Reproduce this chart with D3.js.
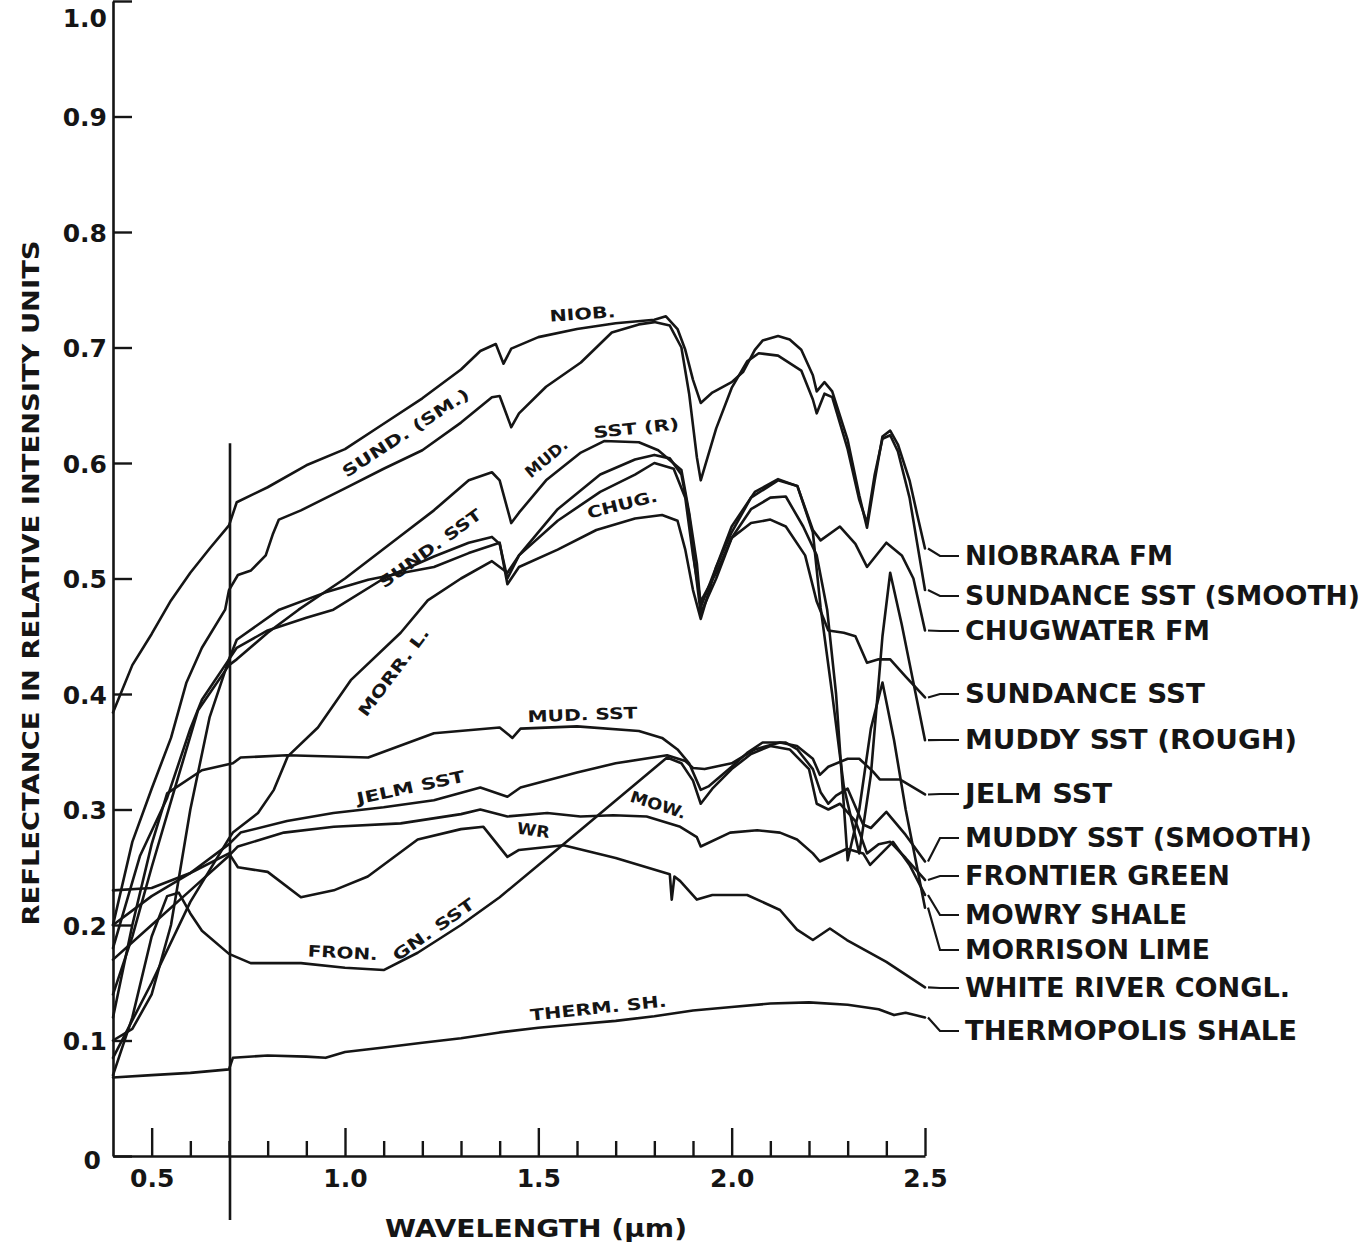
<!DOCTYPE html>
<html><head><meta charset="utf-8">
<script src="https://cdn.jsdelivr.net/npm/d3@7"></script>
<style>html,body{margin:0;padding:0;background:#fff;} svg{display:block}</style>
</head><body>
<svg id="chart" width="1368" height="1253"></svg>
<script>
// ---------- DATA (wavelength µm, reflectance) ----------
const niobrara = [[0.40,0.384],[0.45,0.425],[0.50,0.452],[0.55,0.481],[0.60,0.505],[0.65,0.526],[0.70,0.546],[0.72,0.566],[0.80,0.579],[0.90,0.598],[1.00,0.612],[1.10,0.634],[1.20,0.656],[1.30,0.681],[1.35,0.697],[1.39,0.703],[1.41,0.686],[1.43,0.699],[1.50,0.709],[1.60,0.716],[1.70,0.721],[1.80,0.724],[1.83,0.727],[1.86,0.716],[1.88,0.698],[1.90,0.672],[1.92,0.652],[1.95,0.661],[2.00,0.670],[2.03,0.679],[2.06,0.698],[2.08,0.706],[2.12,0.710],[2.15,0.707],[2.18,0.698],[2.21,0.676],[2.22,0.662],[2.24,0.670],[2.26,0.662],[2.30,0.620],[2.33,0.572],[2.35,0.544],[2.37,0.585],[2.39,0.623],[2.41,0.628],[2.43,0.616],[2.46,0.585],[2.48,0.555],[2.50,0.526]];
const sundanceSmooth = [[0.40,0.200],[0.45,0.272],[0.50,0.318],[0.55,0.362],[0.59,0.410],[0.63,0.440],[0.69,0.473],[0.70,0.490],[0.723,0.503],[0.757,0.507],[0.795,0.520],[0.813,0.538],[0.829,0.551],[0.886,0.559],[1.00,0.578],[1.10,0.595],[1.20,0.611],[1.30,0.635],[1.38,0.657],[1.40,0.658],[1.43,0.631],[1.45,0.643],[1.52,0.666],[1.61,0.687],[1.69,0.713],[1.76,0.720],[1.80,0.722],[1.84,0.719],[1.87,0.700],[1.89,0.660],[1.91,0.605],[1.92,0.585],[1.96,0.630],[2.00,0.665],[2.04,0.688],[2.07,0.695],[2.12,0.693],[2.18,0.680],[2.21,0.655],[2.22,0.643],[2.24,0.660],[2.26,0.657],[2.30,0.612],[2.33,0.568],[2.35,0.548],[2.37,0.590],[2.39,0.621],[2.41,0.624],[2.43,0.610],[2.46,0.570],[2.48,0.530],[2.50,0.490]];
const chugwater = [[0.40,0.100],[0.45,0.110],[0.50,0.140],[0.55,0.200],[0.60,0.300],[0.65,0.380],[0.70,0.430],[0.72,0.447],[0.83,0.473],[0.95,0.488],[1.06,0.499],[1.15,0.505],[1.23,0.510],[1.32,0.522],[1.40,0.531],[1.42,0.495],[1.45,0.510],[1.55,0.525],[1.65,0.542],[1.75,0.552],[1.82,0.555],[1.86,0.550],[1.88,0.525],[1.90,0.490],[1.92,0.465],[1.96,0.510],[2.00,0.545],[2.06,0.575],[2.12,0.586],[2.17,0.580],[2.21,0.542],[2.23,0.533],[2.28,0.545],[2.32,0.530],[2.35,0.510],[2.40,0.531],[2.44,0.520],[2.47,0.500],[2.50,0.455]];
const sundance = [[0.40,0.180],[0.47,0.260],[0.54,0.310],[0.60,0.370],[0.63,0.395],[0.70,0.430],[0.72,0.440],[0.80,0.455],[0.90,0.466],[0.97,0.473],[1.10,0.500],[1.23,0.519],[1.32,0.531],[1.38,0.536],[1.40,0.530],[1.42,0.500],[1.45,0.520],[1.55,0.560],[1.66,0.590],[1.75,0.603],[1.80,0.607],[1.84,0.604],[1.87,0.590],[1.89,0.555],[1.905,0.510],[1.92,0.470],[1.96,0.500],[2.00,0.535],[2.05,0.548],[2.10,0.551],[2.14,0.545],[2.19,0.520],[2.22,0.480],[2.25,0.455],[2.29,0.453],[2.32,0.450],[2.35,0.427],[2.38,0.430],[2.41,0.430],[2.45,0.415],[2.50,0.397]];
const muddyRough = [[0.40,0.140],[0.45,0.190],[0.50,0.250],[0.557,0.315],[0.62,0.386],[0.70,0.425],[0.72,0.430],[0.80,0.453],[0.88,0.473],[1.00,0.500],[1.14,0.536],[1.23,0.559],[1.32,0.585],[1.38,0.592],[1.40,0.585],[1.43,0.548],[1.45,0.557],[1.52,0.585],[1.61,0.609],[1.67,0.619],[1.76,0.618],[1.81,0.611],[1.87,0.594],[1.89,0.557],[1.91,0.513],[1.92,0.475],[1.96,0.510],[2.00,0.540],[2.05,0.570],[2.12,0.585],[2.17,0.580],[2.21,0.540],[2.23,0.475],[2.26,0.400],[2.29,0.320],[2.33,0.262],[2.36,0.330],[2.39,0.450],[2.41,0.505],[2.44,0.460],[2.47,0.410],[2.50,0.360]];
const jelm = [[0.40,0.200],[0.50,0.225],[0.60,0.245],[0.70,0.270],[0.73,0.280],[0.85,0.290],[0.97,0.297],[1.10,0.302],[1.23,0.308],[1.35,0.319],[1.42,0.311],[1.454,0.319],[1.60,0.332],[1.70,0.340],[1.833,0.347],[1.88,0.342],[1.90,0.336],[1.93,0.335],[2.00,0.340],[2.06,0.352],[2.125,0.358],[2.169,0.355],[2.21,0.344],[2.228,0.330],[2.25,0.337],[2.30,0.344],[2.33,0.344],[2.365,0.333],[2.383,0.326],[2.435,0.326],[2.50,0.313]];
const muddySmooth = [[0.40,0.120],[0.45,0.200],[0.50,0.270],[0.54,0.314],[0.63,0.334],[0.71,0.340],[0.73,0.345],[0.85,0.347],[1.06,0.345],[1.23,0.366],[1.40,0.371],[1.433,0.362],[1.454,0.370],[1.60,0.372],[1.76,0.368],[1.82,0.362],[1.86,0.352],[1.89,0.340],[1.92,0.317],[1.94,0.320],[2.00,0.337],[2.04,0.349],[2.08,0.358],[2.14,0.358],[2.17,0.352],[2.21,0.335],[2.23,0.315],[2.25,0.305],[2.27,0.312],[2.30,0.318],[2.34,0.287],[2.36,0.284],[2.40,0.298],[2.45,0.278],[2.50,0.255]];
const frontier = [[0.40,0.070],[0.45,0.120],[0.50,0.190],[0.54,0.225],[0.57,0.228],[0.60,0.210],[0.63,0.195],[0.70,0.175],[0.756,0.167],[0.886,0.167],[1.00,0.163],[1.10,0.161],[1.188,0.176],[1.30,0.200],[1.40,0.224],[1.565,0.270],[1.833,0.345],[1.87,0.340],[1.90,0.325],[1.92,0.305],[1.95,0.318],[2.00,0.335],[2.05,0.348],[2.10,0.355],[2.15,0.352],[2.20,0.335],[2.22,0.305],[2.25,0.300],[2.28,0.305],[2.32,0.290],[2.35,0.262],[2.38,0.270],[2.41,0.272],[2.45,0.258],[2.50,0.239]];
const mowry = [[0.40,0.170],[0.50,0.200],[0.60,0.230],[0.70,0.260],[0.723,0.268],[0.842,0.280],[0.971,0.285],[1.144,0.288],[1.30,0.296],[1.35,0.300],[1.42,0.294],[1.523,0.297],[1.609,0.294],[1.694,0.295],[1.78,0.294],[1.867,0.285],[1.91,0.276],[1.92,0.268],[1.996,0.280],[2.066,0.282],[2.125,0.280],[2.169,0.274],[2.21,0.262],[2.228,0.255],[2.298,0.266],[2.34,0.262],[2.358,0.252],[2.417,0.272],[2.46,0.252],[2.50,0.226]];
const morrison = [[0.40,0.085],[0.50,0.150],[0.60,0.220],[0.70,0.275],[0.71,0.280],[0.775,0.297],[0.816,0.317],[0.852,0.346],[0.93,0.371],[1.015,0.412],[1.144,0.453],[1.214,0.481],[1.30,0.500],[1.38,0.515],[1.42,0.505],[1.45,0.520],[1.55,0.550],[1.66,0.575],[1.75,0.590],[1.80,0.600],[1.85,0.595],[1.88,0.570],[1.90,0.520],[1.92,0.480],[1.96,0.505],[2.00,0.535],[2.05,0.560],[2.10,0.570],[2.14,0.571],[2.185,0.545],[2.22,0.520],[2.247,0.473],[2.27,0.400],[2.30,0.256],[2.33,0.300],[2.36,0.370],[2.39,0.410],[2.42,0.360],[2.45,0.300],[2.50,0.215]];
const whiteRiver = [[0.40,0.230],[0.50,0.232],[0.60,0.245],[0.70,0.262],[0.723,0.250],[0.80,0.246],[0.886,0.224],[0.971,0.230],[1.059,0.242],[1.188,0.274],[1.30,0.283],[1.358,0.285],[1.42,0.259],[1.45,0.265],[1.565,0.269],[1.70,0.258],[1.84,0.244],[1.845,0.222],[1.852,0.242],[1.867,0.238],[1.91,0.222],[1.95,0.226],[2.04,0.226],[2.125,0.213],[2.169,0.196],[2.21,0.187],[2.254,0.197],[2.298,0.187],[2.40,0.168],[2.50,0.146]];
const thermopolis = [[0.40,0.068],[0.50,0.070],[0.60,0.072],[0.70,0.075],[0.71,0.085],[0.80,0.087],[0.90,0.086],[0.95,0.085],[1.00,0.090],[1.10,0.094],[1.20,0.098],[1.30,0.102],[1.40,0.107],[1.50,0.111],[1.60,0.114],[1.70,0.117],[1.80,0.121],[1.90,0.126],[2.00,0.129],[2.10,0.132],[2.20,0.133],[2.30,0.131],[2.38,0.127],[2.42,0.122],[2.45,0.124],[2.50,0.120]];

const seriesNames = ["NIOBRARA FM","SUNDANCE SST (SMOOTH)","CHUGWATER FM","SUNDANCE SST","MUDDY SST (ROUGH)","JELM SST","MUDDY SST (SMOOTH)","FRONTIER GREEN","MOWRY SHALE","MORRISON LIME","WHITE RIVER CONGL.","THERMOPOLIS SHALE"];
const seriesData = [niobrara, sundanceSmooth, chugwater, sundance, muddyRough, jelm, muddySmooth, frontier, mowry, morrison, whiteRiver, thermopolis];

const yTicks = [0,0.1,0.2,0.3,0.4,0.5,0.6,0.7,0.8,0.9,1.0];
const yTickLabels = ["0","0.1","0.2","0.3","0.4","0.5","0.6","0.7","0.8","0.9","1.0"];
const xMajor = [0.5,1.0,1.5,2.0,2.5];
const xMajorLabels = ["0.5","1.0","1.5","2.0","2.5"];
const xMinor = [0.6,0.7,0.8,0.9,1.1,1.2,1.3,1.4,1.6,1.7,1.8,1.9,2.1,2.2,2.3,2.4];
const markerWavelength = 0.7;   // vertical reference line
const markerTop = 0.617;

// in-plot curve labels: text, wavelength, reflectance
const curveLabelText = ["NIOB.","SUND. (SM.)","MUD.","SST (R)","CHUG.","SUND. SST","MORR. L.","MUD. SST","JELM SST","MOW.","WR","FRON.","GN. SST","THERM. SH."];
const curveLabelW = [1.614,1.157,1.521,1.753,1.717,1.221,1.126,1.614,1.170,1.810,1.487,0.994,1.229,1.655];
const curveLabelV = [0.729,0.626,0.604,0.630,0.564,0.526,0.419,0.382,0.319,0.304,0.282,0.176,0.196,0.128];

// ---------- LAYOUT ----------
const svg = d3.select("#chart");
const x = d3.scaleLinear().domain([0.4,2.5]).range([113,925]);
const y = d3.scaleLinear().domain([0,1]).range([1156,1]);
const ink = "#151515";
const labelAngle = [-4,-33,-40,-6,-14,-36,-53,-2,-12,18,8,3,-35,-6];
const labelLen = [66,148,50,86,72,122,106,110,110,58,33,70,96,137];
const legendY = [556,596,631,694,740,794,838,876,915,950,988,1031];
const legendLen = [208,395,245,240,332,147,347,265,222,245,325,332];

// axes
const gx = svg.append("g").attr("transform",`translate(0,${y(0)})`)
  .call(d3.axisBottom(x).tickValues(xMajor).tickSize(-28).tickSizeOuter(0).tickPadding(13)
        .tickFormat((d,i)=>xMajorLabels[i]));
const gxm = svg.append("g").attr("transform",`translate(0,${y(0)})`)
  .call(d3.axisBottom(x).tickValues(xMinor).tickSize(-15).tickSizeOuter(0).tickFormat(""));
gxm.select(".domain").remove();
const gy = svg.append("g").attr("transform",`translate(${x(0.4)},0)`)
  .call(d3.axisLeft(y).tickValues(yTicks).tickSize(-19).tickSizeOuter(0).tickPadding(6)
        .tickFormat((d,i)=>yTickLabels[i]));
[gx,gxm,gy].forEach(g=>{
  g.selectAll(".domain").attr("stroke",ink).attr("stroke-width",2.6);
  g.selectAll(".tick line").attr("stroke",ink).attr("stroke-width",2.4);
  g.selectAll(".tick text").attr("fill",ink)
    .style("font-family","'DejaVu Sans', sans-serif").style("font-weight","bold").style("font-size","25px");
});
gy.selectAll(".tick text").attr("dy","0.36em");
gy.selectAll(".tick").filter(d=>d===0).select("text").attr("dy","0.5em").attr("x",-12);
gy.selectAll(".tick").filter(d=>d===1).select("text").attr("dy","1.0em");

// vertical marker line
svg.append("line").attr("x1",x(markerWavelength)+1).attr("x2",x(markerWavelength)+1)
  .attr("y1",y(markerTop)).attr("y2",y(0)+64).attr("stroke",ink).attr("stroke-width",2.6);

// curves
const line = d3.line().x(d=>x(d[0])).y(d=>y(d[1]));
svg.append("g").selectAll("path").data(seriesData).join("path")
  .attr("d",line).attr("fill","none").attr("stroke",ink).attr("stroke-width",2.6)
  .attr("stroke-linejoin","round").attr("stroke-linecap","round");

// curve labels
svg.append("g").selectAll("text").data(curveLabelText).join("text")
  .attr("transform",(d,i)=>`translate(${x(curveLabelW[i])},${y(curveLabelV[i])}) rotate(${labelAngle[i]})`)
  .attr("text-anchor","middle").attr("dominant-baseline","central")
  .attr("textLength",(d,i)=>labelLen[i]).attr("lengthAdjust","spacingAndGlyphs")
  .style("font-family","'DejaVu Sans', sans-serif").style("font-weight","bold").style("font-size","16px")
  .attr("fill",ink).text(d=>d);

// legend leaders + text
const lx = 962;
const lg = svg.append("g");
seriesData.forEach((s,i)=>{
  const end = s[s.length-1];
  const ex = x(end[0])+3, ey = y(end[1]);
  lg.append("path").attr("d",`M${ex},${ey} L${lx-22},${legendY[i]} L${lx-3},${legendY[i]}`)
    .attr("fill","none").attr("stroke",ink).attr("stroke-width",2.2);
  lg.append("text").attr("x",lx+3).attr("y",legendY[i]).attr("dominant-baseline","central")
    .attr("textLength",legendLen[i]).attr("lengthAdjust","spacingAndGlyphs")
    .style("font-family","'DejaVu Sans', sans-serif").style("font-weight","bold").style("font-size","26px")
    .attr("fill",ink).text(seriesNames[i]);
});

// axis titles
svg.append("text").attr("x",536).attr("y",1228).attr("text-anchor","middle").attr("dominant-baseline","central")
  .attr("textLength",302).attr("lengthAdjust","spacingAndGlyphs")
  .style("font-family","'DejaVu Sans', sans-serif").style("font-weight","bold").style("font-size","25px")
  .attr("fill",ink).text("WAVELENGTH (\u00b5m)");
svg.append("text").attr("transform","translate(31,583) rotate(-90)").attr("text-anchor","middle").attr("dominant-baseline","central")
  .attr("textLength",685).attr("lengthAdjust","spacingAndGlyphs")
  .style("font-family","'DejaVu Sans', sans-serif").style("font-weight","bold").style("font-size","23px")
  .attr("fill",ink).text("REFLECTANCE IN RELATIVE INTENSITY UNITS");
</script>
</body></html>
